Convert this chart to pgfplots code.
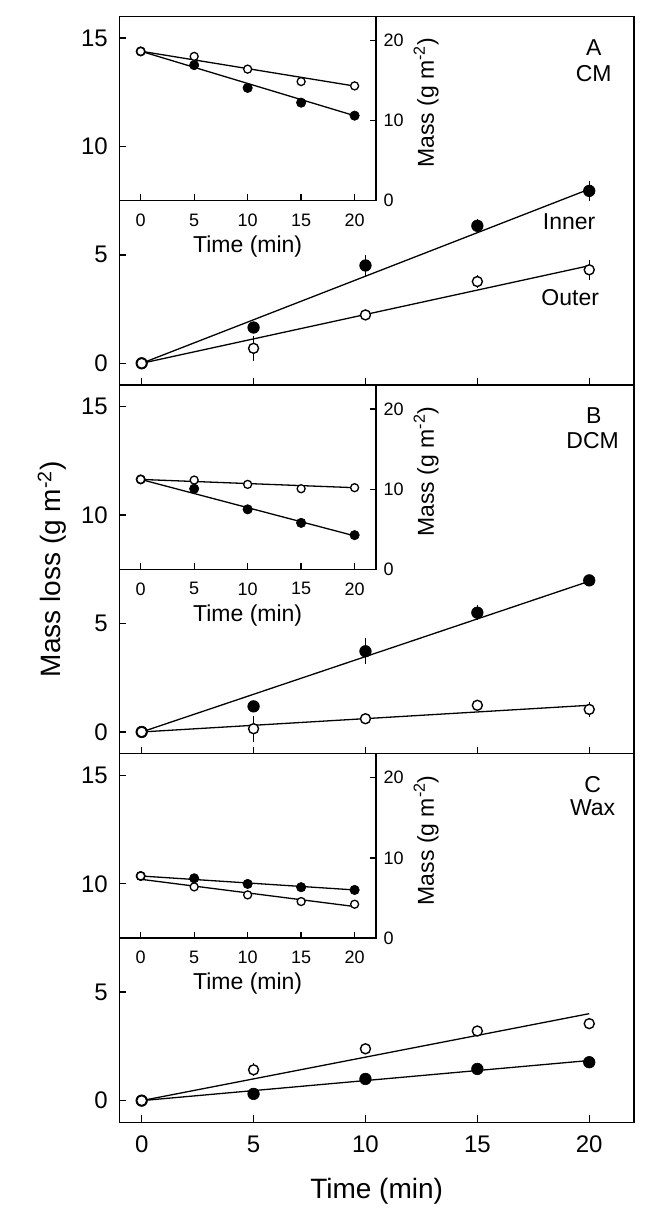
\documentclass[border=0pt]{standalone}
\usepackage{pgfplots}
\pgfplotsset{compat=1.18}
\usepackage{fontspec}
\setmainfont{Liberation Sans}

\tikzset{paneltext/.style={font=\fontsize{23}{27}\selectfont, inner sep=0pt, anchor=center}}

\pgfplotsset{
  mainax/.style={
    scale only axis, width=514.7pt, height=368.67pt,
    xmin=-1, xmax=22, ymin=-1, ymax=16,
    xtick={0,5,10,15,20}, ytick={0,5,10,15},
    tick pos=left, tick align=inside, major tick length=7pt,
    axis line style={line width=1.6pt},
    every tick/.style={black, line width=1.4pt},
    /pgf/number format/assume math mode=true,
    tick label style={font=\fontsize{24}{28}\selectfont},
    xticklabel style={yshift=-10pt},
    yticklabel style={xshift=-8pt},
  },
  insetax/.style={
    scale only axis, width=256.7pt, height=184.4pt,
    xmin=-2, xmax=22, ymin=0, ymax=23,
    xtick={0,5,10,15,20}, ytick={0,10,20},
    xtick pos=left, ytick pos=right, yticklabel pos=right,
    tick align=inside, major tick length=6.5pt,
    axis line style={line width=1.4pt},
    every tick/.style={black, line width=1.3pt},
    /pgf/number format/assume math mode=true,
    tick label style={font=\fontsize{18}{21}\selectfont},
    xticklabel style={yshift=-9.6pt},
    yticklabel style={xshift=4pt},
    xlabel={Time (min)},
    ylabel={Mass (g m\textsuperscript{-2})},
    label style={font=\fontsize{23}{27}\selectfont},
    xlabel style={at={(axis description cs:0.5,-0.249)}, anchor=center},
    ylabel style={at={(axis description cs:1.195,0.53)}, anchor=center},
  },
  fitline/.style={black, line width=1.3pt, no marks},
  filledpt/.style={only marks, mark=*, mark size=5.8pt,
    mark options={fill=black, draw=black, line width=0.6pt},
    error bars/.cd, y dir=both, y explicit, error mark=none,
    error bar style={black, line width=1.3pt}},
  openpt/.style={only marks, mark=*, mark size=5pt,
    mark options={fill=white, draw=black, line width=1.4pt},
    error bars/.cd, y dir=both, y explicit, error mark=none,
    error bar style={black, line width=1.3pt}},
  filledsm/.style={only marks, mark=*, mark size=4.7pt,
    mark options={fill=black, draw=black, line width=0.6pt}},
  opensm/.style={only marks, mark=*, mark size=4pt,
    mark options={fill=white, draw=black, line width=1.3pt}},
}

\begin{document}
\begin{tikzpicture}
\path[use as bounding box] (0,0) rectangle (651pt,-1208pt);

% ---------------- Panel A: CM ----------------
\begin{axis}[mainax, at={(119.3pt,-16.3pt)}, anchor=north west, xticklabels={}]
  \addplot[fitline] coordinates {(0,0) (20,8.03)};
  \addplot[fitline] coordinates {(0,0) (20,4.5)};
  % inner
  \addplot[filledpt] coordinates {
    (0,0) +- (0,0) (5,1.65) +- (0,0.15) (10,4.51) +- (0,0.5)
    (15,6.34) +- (0,0.3) (20,7.95) +- (0,0.45)};
  % outer
  \addplot[openpt] coordinates {
    (0,0) +- (0,0) (5,0.69) +- (0,0.58) (10,2.23) +- (0,0.2)
    (15,3.77) +- (0,0.28) (20,4.31) +- (0,0.45)};
  \node[paneltext] at (axis cs:20.2,14.56) {A};
  \node[paneltext] at (axis cs:20.2,13.34) {CM};
  \node[paneltext] at (axis cs:19.1,6.53) {Inner};
  \node[paneltext] at (axis cs:19.15,3.03) {Outer};
\end{axis}
\begin{axis}[insetax, at={(119.3pt,-16.3pt)}, anchor=north west]
  \addplot[fitline] coordinates {(0,18.65) (20,14.3)};
  \addplot[fitline] coordinates {(0,18.65) (20,10.6)};
  \addplot[filledsm] coordinates {(0,18.62) (5,16.91) (10,14.07) (15,12.23) (20,10.61)};
  \addplot[opensm] coordinates {(0,18.62) (5,18.0) (10,16.41) (15,14.86) (20,14.32)};
\end{axis}

% ---------------- Panel B: DCM ----------------
\begin{axis}[mainax, at={(119.3pt,-384.97pt)}, anchor=north west, xticklabels={},
    ylabel={Mass loss (g m\textsuperscript{-2})},
    ylabel style={at={(axis description cs:-0.131,0.5)}, anchor=center,
      font=\fontsize{28}{33}\selectfont}]
  \addplot[fitline] coordinates {(0,0) (20,6.95)};
  \addplot[fitline] coordinates {(0,0) (20,1.23)};
  \addplot[filledpt] coordinates {
    (0,0) +- (0,0) (5,1.18) +- (0,0.1) (10,3.72) +- (0,0.6)
    (15,5.5) +- (0,0.35) (20,6.99) +- (0,0.1)};
  \addplot[openpt] coordinates {
    (0,0) +- (0,0) (5,0.15) +- (0,0.6) (10,0.61) +- (0,0.2)
    (15,1.23) +- (0,0.1) (20,1.04) +- (0,0.35)};
  \node[paneltext] at (axis cs:20.2,14.59) {B};
  \node[paneltext] at (axis cs:20.15,13.43) {DCM};
\end{axis}
\begin{axis}[insetax, at={(119.3pt,-384.97pt)}, anchor=north west]
  \addplot[fitline] coordinates {(0,11.22) (20,10.19)};
  \addplot[fitline] coordinates {(0,11.22) (20,4.18)};
  \addplot[filledsm] coordinates {(0,11.22) (5,10.06) (10,7.49) (15,5.8) (20,4.27)};
  \addplot[opensm] coordinates {(0,11.22) (5,11.14) (10,10.6) (15,10.06) (20,10.19)};
\end{axis}

% ---------------- Panel C: Wax ----------------
\begin{axis}[mainax, at={(119.3pt,-753.63pt)}, anchor=north west,
    xlabel={Time (min)},
    xlabel style={at={(axis description cs:0.5,-0.186)}, anchor=center,
      font=\fontsize{28}{33}\selectfont}]
  \addplot[fitline] coordinates {(0,0) (20,4.01)};
  \addplot[fitline] coordinates {(0,0) (20,1.85)};
  \addplot[filledpt] coordinates {
    (0,0) +- (0,0) (5,0.31) +- (0,0.1) (10,1.0) +- (0,0.25)
    (15,1.46) +- (0,0.15) (20,1.77) +- (0,0.1)};
  \addplot[openpt] coordinates {
    (0,0) +- (0,0) (5,1.42) +- (0,0.3) (10,2.39) +- (0,0.15)
    (15,3.21) +- (0,0.15) (20,3.55) +- (0,0.25)};
  \node[paneltext] at (axis cs:20.15,14.57) {C};
  \node[paneltext] at (axis cs:20.15,13.49) {Wax};
\end{axis}
\begin{axis}[insetax, at={(119.3pt,-753.63pt)}, anchor=north west]
  \addplot[fitline] coordinates {(0,7.74) (20,6.0)};
  \addplot[fitline] coordinates {(0,7.33) (20,3.93)};
  \addplot[filledsm] coordinates {(0,7.74) (5,7.45) (10,6.75) (15,6.34) (20,6.0)};
  \addplot[opensm] coordinates {(0,7.74) (5,6.38) (10,5.38) (15,4.55) (20,4.22)};
\end{axis}
\end{tikzpicture}
\end{document}
